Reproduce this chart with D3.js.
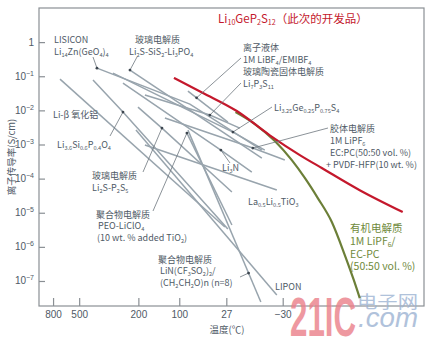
<!DOCTYPE html>
<html>
<head>
<meta charset="utf-8">
<script src="https://cdn.jsdelivr.net/npm/d3@7"></script>
<style>
  body { margin: 0; background: #fff; }
  text { font-family: "Noto Sans CJK SC", "Noto Sans", sans-serif; }
</style>
</head>
<body>
<div id="chart"></div>
<script>
// x axis is 1000/T (1/K), labelled in °C
const tempTicks = [800, 500, 200, 100, 27, -30];
// y axis: log10 of conductivity (S/cm)
const sigmaExponents = [0, -1, -2, -3, -4, -5, -6, -7];

// curves as [1000/T, log10 σ]
const li10GeP2S12 = [[2.606, -1.05], [3.008, -1.49], [3.477, -2.02], [3.934, -2.73], [4.350, -3.31], [4.654, -3.69], [5.180, -4.34], [5.775, -4.98]];
const organicLiquid = [[3.459, -2.05], [3.727, -2.40], [4.004, -2.90], [4.239, -3.46], [4.419, -3.98], [4.599, -4.57], [4.793, -5.27], [4.973, -6.24], [5.097, -6.97], [5.180, -7.50]];

const lisicon = [[1.540, -0.762], [2.827, -1.816], [3.824, -3.163]];
const li2sSiS2Li3PO4 = [[1.997, -0.820], [3.824, -3.398]];
const thioLisicon = [[1.762, -0.908], [3.423, -2.636], [3.865, -3.163]];
const li3N = [[1.900, -1.201], [3.256, -3.163], [3.685, -3.807]];
const li7P3S11 = [[2.204, -1.552], [3.104, -2.138], [3.519, -2.519]];
const ionicLiquid = [[2.800, -1.435], [3.353, -2.343]];
const gelPolymer = [[2.481, -2.226], [3.699, -3.105], [4.142, -3.456]];
const betaAlumina = [[1.028, -1.084], [3.312, -5.419]];
const li36Si06P04O4 = [[1.485, -1.113], [1.900, -2.050], [3.353, -5.477]];
const li2sP2S5 = [[2.108, -1.904], [2.440, -2.519], [3.409, -4.394]];
const llto = [[2.204, -3.017], [4.031, -4.335]];
const peoLiClO4 = [[2.786, -2.665], [3.409, -5.360]];
const peoLiTFSI = [[2.800, -2.578], [3.810, -7.616]];
const lipon = [[2.080, -2.578], [4.031, -7.411]];

const grayLines = [lisicon, li2sSiS2Li3PO4, thioLisicon, li3N, li7P3S11, ionicLiquid, gelPolymer,
  betaAlumina, li36Si06P04O4, li2sP2S5, llto, peoLiClO4, peoLiTFSI, lipon];

// SETTINGS
const width = 430, height = 338;
const plot = { left: 39, right: 424, top: 8, bottom: 306 };
const colors = {
  frame: '#8a8f94',
  gray: '#98a4ad',
  text: '#4f5a66',
  red: '#c4182c',
  green: '#6c7f38',
  greenText: '#6f8a3c'
};

const invT = c => 1000 / (c + 273.15);

const x = d3.scaleLinear()
  .domain([0.737, 6.07])
  .range([plot.left, plot.right]);
const y = d3.scaleLog()
  .domain([Math.pow(10, -7.733), 10])
  .range([plot.bottom, plot.top]);

const line = d3.line()
  .x(d => x(d[0]))
  .y(d => y(Math.pow(10, d[1])));
const smooth = d3.line()
  .x(d => x(d[0]))
  .y(d => y(Math.pow(10, d[1])))
  .curve(d3.curveMonotoneX);

const svg = d3.select('#chart')
  .append('svg')
  .attr('width', width)
  .attr('height', height);

// frame
svg.append('rect')
  .attr('x', plot.left)
  .attr('y', plot.top)
  .attr('width', plot.right - plot.left)
  .attr('height', plot.bottom - plot.top)
  .attr('fill', 'none')
  .attr('stroke', colors.frame)
  .attr('stroke-width', 1.2);

// axes, ticks drawn inward
const xAxis = d3.axisBottom(x)
  .tickValues(tempTicks.map(invT))
  .tickFormat((d, i) => tempTicks[i] < 0 ? '\u2212' + Math.abs(tempTicks[i]) : tempTicks[i])
  .tickSizeInner(-8)
  .tickSizeOuter(0)
  .tickPadding(5);
const gx = svg.append('g')
  .attr('transform', `translate(0,${plot.bottom})`)
  .call(xAxis);

const yAxis = d3.axisLeft(y)
  .tickValues(sigmaExponents.map(e => Math.pow(10, e)))
  .tickFormat('')
  .tickSizeInner(-6)
  .tickSizeOuter(0);
const gy = svg.append('g')
  .attr('transform', `translate(${plot.left},0)`)
  .call(yAxis);

[gx, gy].forEach(g => {
  g.select('.domain').remove();
  g.selectAll('line').attr('stroke', colors.frame).attr('stroke-width', 1.2);
  g.selectAll('text').attr('fill', colors.text).attr('font-size', 10)
    .style('font-family', '"Liberation Sans", Arial, sans-serif');
});

// y tick labels with superscript exponents
sigmaExponents.forEach(e => {
  const t = svg.append('text')
    .attr('x', 34)
    .attr('y', y(Math.pow(10, e)) + 3.5)
    .attr('text-anchor', 'end')
    .attr('fill', colors.text)
    .attr('font-size', 10)
    .style('font-family', '"Liberation Sans", Arial, sans-serif');
  if (e === 0) {
    t.text('1');
  } else {
    t.append('tspan').text('10');
    t.append('tspan').attr('dy', -4).attr('font-size', 7).text('\u2212' + Math.abs(e));
  }
});

// axis titles
svg.append('text')
  .attr('transform', 'translate(15,157) rotate(-90)')
  .attr('text-anchor', 'middle')
  .attr('fill', colors.text)
  .attr('font-size', 9.5)
  .text('离子传导率(S/cm)');
svg.append('text')
  .attr('x', 227)
  .attr('y', 333)
  .attr('text-anchor', 'middle')
  .attr('fill', colors.text)
  .attr('font-size', 9.5)
  .text('温度(℃)');

// watermark
const wm = svg.append('g').attr('opacity', 0.8);
wm.append('text')
  .attr('x', 290).attr('y', 336)
  .attr('fill', '#eb7f89')
  .attr('font-size', 55)
  .attr('font-weight', 'bold')
  .style('font-family', '"Liberation Sans", Arial, sans-serif')
  .attr('textLength', 66)
  .attr('lengthAdjust', 'spacingAndGlyphs')
  .text('21IC');
wm.append('text')
  .attr('x', 357).attr('y', 308)
  .attr('fill', '#9db3d3')
  .attr('font-size', 17)
  .attr('textLength', 61)
  .attr('lengthAdjust', 'spacingAndGlyphs')
  .text('电子网');
wm.append('text')
  .attr('x', 358).attr('y', 327)
  .attr('fill', '#9db3d3')
  .attr('font-size', 28)
  .attr('font-style', 'italic')
  .style('font-family', '"Liberation Sans", Arial, sans-serif')
  .attr('textLength', 60)
  .attr('lengthAdjust', 'spacingAndGlyphs')
  .text('.com');

// data lines
svg.append('g')
  .selectAll('path')
  .data(grayLines)
  .enter()
  .append('path')
  .attr('d', line)
  .attr('fill', 'none')
  .attr('stroke', colors.gray)
  .attr('stroke-width', 1.5);

svg.append('path')
  .attr('d', smooth(organicLiquid))
  .attr('fill', 'none')
  .attr('stroke', colors.green)
  .attr('stroke-width', 2.2);

svg.append('path')
  .attr('d', smooth(li10GeP2S12))
  .attr('fill', 'none')
  .attr('stroke', colors.red)
  .attr('stroke-width', 2.2);

// point on a curve at a given 1000/T
const pointOn = (curve, t) => {
  for (let i = 1; i < curve.length; i++) {
    const a = curve[i - 1], b = curve[i];
    if (t <= b[0] || i === curve.length - 1) {
      const f = (t - a[0]) / (b[0] - a[0]);
      return [x(t), y(Math.pow(10, a[1] + f * (b[1] - a[1])))];
    }
  }
};

// leaders: curve, 1000/T of the dot, label end in px
const leaders = [
  [lisicon, 1.540, [93, 57]],
  [li2sSiS2Li3PO4, 1.997, [137, 57]],
  [li36Si06P04O4, 1.900, [110, 136]],
  [li2sP2S5, 2.440, [143, 172]],
  [peoLiClO4, 2.786, [153, 211]],
  [ionicLiquid, 2.920, [241, 58]],
  [li7P3S11, 3.104, [241, 83]],
  [thioLisicon, 3.423, [272, 107]],
  [gelPolymer, 3.699, [328, 128]],
  [li3N, 3.256, [230, 163]],
  [peoLiTFSI, 3.640, [240, 277]]
];
const lg = svg.append('g');
leaders.forEach(([curve, t, end]) => {
  const p = pointOn(curve, t);
  lg.append('line')
    .attr('x1', p[0]).attr('y1', p[1])
    .attr('x2', end[0]).attr('y2', end[1])
    .attr('stroke', '#6d767e')
    .attr('stroke-width', 0.8);
  lg.append('circle')
    .attr('cx', p[0]).attr('cy', p[1])
    .attr('r', 1.4)
    .attr('fill', '#3d464f');
});

// labels: text with _{...} subscripts
const labels = [
  { x: 54, y: 43, t: 'LISICON' },
  { x: 54, y: 55, t: 'Li_{14}Zn(GeO_{4})_{4}' },
  { x: 135, y: 43, t: '玻璃电解质' },
  { x: 129, y: 55, t: 'Li_{2}S-SiS_{2}-Li_{3}PO_{4}' },
  { x: 218, y: 23, t: 'Li_{10}GeP_{2}S_{12}（此次的开发品）', c: colors.red, s: 11.5 },
  { x: 243, y: 51, t: '离子液体' },
  { x: 243, y: 63, t: '1M LiBF_{4}/EMIBF_{4}' },
  { x: 243, y: 75, t: '玻璃陶瓷固体电解质' },
  { x: 243, y: 87, t: 'Li_{7}P_{3}S_{11}' },
  { x: 274, y: 111, t: 'Li_{3.25}Ge_{0.25}P_{0.75}S_{4}' },
  { x: 330, y: 132, t: '胶体电解质' },
  { x: 330, y: 144, t: '1M LiPF_{6}' },
  { x: 330, y: 156, t: 'EC:PC(50:50 vol. %)' },
  { x: 326, y: 168, t: '+ PVDF-HFP(10 wt. %)' },
  { x: 53, y: 118, t: 'Li-β 氧化铝' },
  { x: 57, y: 148, t: 'Li_{3.6}Si_{0.6}P_{0.4}O_{4}' },
  { x: 222, y: 171, t: 'Li_{3}N' },
  { x: 248, y: 205, t: 'La_{0.5}Li_{0.5}TiO_{3}' },
  { x: 92, y: 179, t: '玻璃电解质' },
  { x: 92, y: 191, t: 'Li_{2}S-P_{2}S_{5}' },
  { x: 96, y: 218, t: '聚合物电解质' },
  { x: 98, y: 229, t: 'PEO-LiClO_{4}' },
  { x: 97, y: 241, t: '(10 wt. % added TiO_{2})' },
  { x: 158, y: 263, t: '聚合物电解质' },
  { x: 160, y: 274, t: 'LiN(CF_{3}SO_{2})_{2}/' },
  { x: 160, y: 286, t: '(CH_{2}CH_{2}O)n  (n=8)' },
  { x: 275, y: 290, t: 'LIPON' },
  { x: 350, y: 232, t: '有机电解质', c: colors.greenText, s: 10.5 },
  { x: 350, y: 245, t: '1M LiPF_{6}/', c: colors.greenText, s: 10.5 },
  { x: 350, y: 258, t: 'EC-PC', c: colors.greenText, s: 10.5 },
  { x: 350, y: 270, t: '(50:50 vol. %)', c: colors.greenText, s: 10.5 }
];

labels.forEach(l => {
  const size = l.s || 9;
  const text = svg.append('text')
    .attr('x', l.x)
    .attr('y', l.y)
    .attr('fill', l.c || colors.text)
    .attr('font-size', size);
  let lowered = false;
  l.t.split(/(_\{[^}]*\})/).filter(s => s).forEach(part => {
    if (part.startsWith('_{')) {
      text.append('tspan')
        .attr('font-size', size * 0.62)
        .attr('dy', lowered ? 0 : 2)
        .text(part.slice(2, -1));
      lowered = true;
    } else {
      text.append('tspan')
        .attr('dy', lowered ? -2 : 0)
        .text(part);
      lowered = false;
    }
  });
});
</script>
</body>
</html>
